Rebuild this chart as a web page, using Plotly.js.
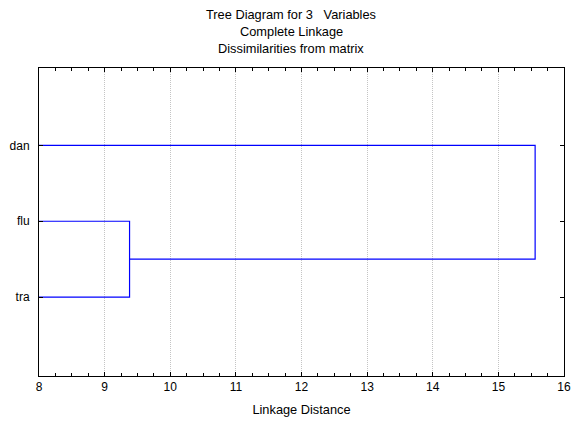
<!DOCTYPE html>
<html>
<head>
<meta charset="utf-8">
<script src="https://cdn.plot.ly/plotly-3.0.1.min.js"></script>
<style>html,body{margin:0;padding:0;background:#fff;}#chart{width:572px;height:421px;}</style>
</head>
<body>
<div id="chart"></div>
<script>
// Data
const leaves = ['tra', 'flu', 'dan'];          // bottom to top
const leafPos = [1, 2, 3];
const mergeHeights = [9.38, 15.56];             // flu+tra, then (flu,tra)+dan
const xTicks = [8, 9, 10, 11, 12, 13, 14, 15, 16];
const titleLines = ['Tree Diagram for 3   Variables', 'Complete Linkage', 'Dissimilarities from matrix'];
const xTitle = 'Linkage Distance';

const base = xTicks[0];
const xs = [], ys = [];
// merge 1: flu with tra
const h1 = mergeHeights[0];
xs.push(base, h1, h1, base, null);
ys.push(leafPos[1], leafPos[1], leafPos[0], leafPos[0], null);
// merge 2: cluster (flu,tra) with dan
const h2 = mergeHeights[1];
const mid = (leafPos[0] + leafPos[1]) / 2;
xs.push(h1, h2, h2, base);
ys.push(mid, mid, leafPos[2], leafPos[2]);

const trace = {
  x: xs, y: ys, mode: 'lines', type: 'scatter',
  line: {color: '#0000ff', width: 1.2},
  hoverinfo: 'skip', showlegend: false
};

const font = {family: 'Liberation Sans, Arial, sans-serif', size: 12, color: '#000'};
const tFont = {family: 'Liberation Sans, Arial, sans-serif', size: 12.8, color: '#000'};
const titleY = [1.1753, 1.1201, 1.0649];
const annotations = titleLines.map((t, i) => ({
  text: t, xref: 'paper', yref: 'paper', x: 0.48, y: titleY[i],
  xanchor: 'center', yanchor: 'middle', showarrow: false, font: tFont
}));

const layout = {
  width: 572, height: 421,
  margin: {l: 39, r: 8, t: 68, b: 45},
  paper_bgcolor: '#fff', plot_bgcolor: '#fff',
  font: font,
  showlegend: false,
  annotations: annotations,
  xaxis: {
    range: [xTicks[0], xTicks[xTicks.length - 1]],
    tickvals: xTicks,
    ticks: 'inside', ticklen: 4, tickcolor: '#000',
    showline: true, linecolor: '#000', linewidth: 1, mirror: 'ticks',
    showgrid: true, gridcolor: '#c4c4c4', griddash: '1px,1px', gridwidth: 1,
    zeroline: false,
    minor: {dtick: 0.25, ticks: 'inside', ticklen: 3, tickcolor: '#000', showgrid: false},
    tickfont: font, ticklabeloverflow: 'allow',
    title: {text: xTitle, font: tFont, standoff: 11}
  },
  yaxis: {
    range: [-0.04, 4.02],
    tickvals: leafPos, ticktext: leaves,
    ticks: 'inside', ticklen: 4, tickcolor: '#000',
    showline: true, linecolor: '#000', linewidth: 1, mirror: 'ticks',
    showgrid: false, zeroline: false,
    tickfont: font, ticklabelstandoff: 6
  }
};

Plotly.newPlot('chart', [trace], layout, {staticPlot: true, displayModeBar: false});
</script>
</body>
</html>
